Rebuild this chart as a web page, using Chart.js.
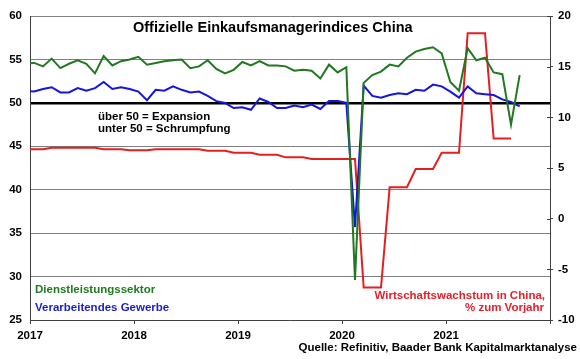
<!DOCTYPE html>
<html>
<head>
<meta charset="utf-8">
<script src="https://cdn.jsdelivr.net/npm/chart.js@4.4.1/dist/chart.umd.min.js"></script>
<style>
html,body{margin:0;padding:0;background:#fff;}
#wrap{width:580px;height:359px;position:relative;}
</style>
</head>
<body>
<div id="wrap"><canvas id="c" width="580" height="359"></canvas></div>
<script>
// Monthly observations (Dec 2016 .. Sep 2021)
const months = [
 "2016-12",
 "2017-01","2017-02","2017-03","2017-04","2017-05","2017-06","2017-07","2017-08","2017-09","2017-10","2017-11","2017-12",
 "2018-01","2018-02","2018-03","2018-04","2018-05","2018-06","2018-07","2018-08","2018-09","2018-10","2018-11","2018-12",
 "2019-01","2019-02","2019-03","2019-04","2019-05","2019-06","2019-07","2019-08","2019-09","2019-10","2019-11","2019-12",
 "2020-01","2020-02","2020-03","2020-04","2020-05","2020-06","2020-07","2020-08","2020-09","2020-10","2020-11","2020-12",
 "2021-01","2021-02","2021-03","2021-04","2021-05","2021-06","2021-07","2021-08","2021-09"
];
const services = [
 54.5,
 54.6,54.2,55.1,54.0,54.5,54.9,54.5,53.4,55.4,54.3,54.8,55.0,
 55.3,54.4,54.6,54.8,54.9,55.0,54.0,54.2,54.9,53.9,53.4,53.8,
 54.7,54.3,54.8,54.3,54.3,54.2,53.7,53.8,53.7,52.8,54.4,53.5,
 54.1,29.6,52.3,53.2,53.6,54.4,54.2,55.2,55.9,56.2,56.4,55.7,
 52.4,51.4,56.3,54.9,55.2,53.5,53.3,47.5,53.2
];
const manufacturing = [
 51.4,
 51.3,51.6,51.8,51.2,51.2,51.7,51.4,51.7,52.4,51.6,51.8,51.6,
 51.3,50.3,51.5,51.4,51.9,51.5,51.2,51.3,50.8,50.2,50.0,49.4,
 49.5,49.2,50.5,50.1,49.4,49.4,49.7,49.5,49.8,49.3,50.2,50.2,
 50.0,35.7,52.0,50.8,50.6,50.9,51.1,51.0,51.5,51.4,52.1,51.9,
 51.3,50.6,51.9,51.1,51.0,50.9,50.4,50.1,49.6
];
// GDP growth (% y/y), monthly steps, Dec 2016 .. Aug 2021
const gdpGrowth = [
 6.85,6.85,6.85,
 7.0,7.0,7.0,
 7.0,7.0,7.0,
 6.85,6.85,6.85,
 6.75,6.75,6.75,
 6.85,6.85,6.85,
 6.85,6.85,6.85,
 6.7,6.7,6.7,
 6.5,6.5,6.5,
 6.3,6.3,6.3,
 6.05,6.05,6.05,
 5.9,5.9,5.9,
 5.9,5.9,5.9,
 -6.8,-6.8,-6.8,
 3.1,3.1,3.1,
 4.9,4.9,4.9,
 6.5,6.5,6.5,
 18.3,18.3,18.3,
 7.9,7.9,7.9
];
const yearTicks = [2017, 2018, 2019, 2020, 2021];
const leftTicks = [25, 30, 35, 40, 45, 50, 55, 60];
const rightTicks = [-10, -5, 0, 5, 10, 15, 20];

const FONT = "'Liberation Sans', Arial, Helvetica, sans-serif";

function monthToX(m) {
  const [y, mo] = m.split("-").map(Number);
  return y + (mo - 0.5) / 12;
}
function series(vals) {
  return vals.map((v, i) => ({ x: monthToX(months[i]), y: v }));
}

const textPlugin = {
  id: 'texts',
  afterDraw(chart) {
    const ctx = chart.ctx;
    const ca = chart.chartArea;
    ctx.save();
    // inner part of right axis tick marks
    const y2 = chart.scales.y2;
    ctx.strokeStyle = '#404040';
    ctx.lineWidth = 1;
    rightTicks.forEach(t => {
      const py = Math.round(y2.getPixelForValue(t)) + 0.5;
      ctx.beginPath();
      ctx.moveTo(ca.right - 3, py);
      ctx.lineTo(ca.right, py);
      ctx.stroke();
    });
    ctx.textBaseline = 'alphabetic';
    ctx.fillStyle = '#000';
    ctx.textAlign = 'left';
    ctx.font = "bold 14.5px " + FONT;
    ctx.fillText("Offizielle Einkaufsmanagerindices China", 133, 32);
    ctx.font = "bold 11.5px " + FONT;
    ctx.fillText("über 50 = Expansion", 98, 120);
    ctx.fillText("unter 50 = Schrumpfung", 98, 132);
    ctx.fillStyle = '#1e7b1e';
    ctx.fillText("Dienstleistungssektor", 35, 293);
    ctx.fillStyle = '#1c1cc8';
    ctx.fillText("Verarbeitendes Gewerbe", 35, 310.5);
    ctx.fillStyle = '#e8202a';
    ctx.textAlign = 'right';
    ctx.fillText("Wirtschaftswachstum in China,", 545, 299);
    ctx.fillText("% zum Vorjahr", 544, 311);
    ctx.fillStyle = '#000';
    ctx.fillText("Quelle: Refinitiv, Baader Bank Kapitalmarktanalyse", 577, 350.5);
    ctx.restore();
  }
};

new Chart(document.getElementById('c'), {
  type: 'line',
  data: {
    datasets: [
      { label: 'Dienstleistungssektor', data: series(services), yAxisID: 'y',
        borderColor: '#217821', borderWidth: 2 },
      { label: 'Verarbeitendes Gewerbe', data: series(manufacturing), yAxisID: 'y',
        borderColor: '#1515e0', borderWidth: 2 },
      { label: 'Wirtschaftswachstum in China, % zum Vorjahr', data: series(gdpGrowth), yAxisID: 'y2',
        borderColor: '#e41f1f', borderWidth: 2 }
    ]
  },
  options: {
    responsive: false,
    animation: false,
    layout: { padding: { top: 16, left: 0, right: 0, bottom: 0 } },
    plugins: { legend: { display: false }, tooltip: { enabled: false }, title: { display: false } },
    elements: { point: { radius: 0 }, line: { tension: 0, fill: false } },
    scales: {
      x: {
        type: 'linear', min: 2017, max: 2022,
        afterBuildTicks: s => { s.ticks = [2017, 2018, 2019, 2020, 2021, 2022].map(v => ({ value: v })); },
        ticks: {
          autoSkip: false, maxRotation: 0, padding: 5, color: '#000',
          font: { family: FONT, weight: 'bold', size: 11.5 },
          callback: v => yearTicks.includes(v) ? String(v) : ''
        },
        grid: { drawOnChartArea: false, drawTicks: true, tickLength: 4, color: '#404040' },
        border: { display: true, color: '#404040', width: 1 },
        afterFit: s => { s.height = 39; }
      },
      y: {
        position: 'left', min: 25, max: 60,
        afterBuildTicks: s => { s.ticks = leftTicks.map(v => ({ value: v })); },
        ticks: { padding: 8, color: '#000', font: { family: FONT, weight: 'bold', size: 11.5 } },
        grid: {
          drawTicks: false,
          color: c => (c.tick && c.tick.value === 50) ? '#000' : '#808080',
          lineWidth: c => (c.tick && c.tick.value === 50) ? 2.5 : 1
        },
        border: { display: true, color: '#404040', width: 1 },
        afterFit: s => { s.width = 30; }
      },
      y2: {
        position: 'right', min: -10, max: 20,
        afterBuildTicks: s => { s.ticks = rightTicks.map(v => ({ value: v })); },
        ticks: { padding: 5, color: '#000', font: { family: FONT, weight: 'bold', size: 11.5 } },
        grid: { drawOnChartArea: false, drawTicks: true, tickLength: 3, color: '#404040' },
        border: { display: true, color: '#404040', width: 1 },
        afterFit: s => { s.width = 30; }
      }
    }
  },
  plugins: [textPlugin]
});
</script>
</body>
</html>
